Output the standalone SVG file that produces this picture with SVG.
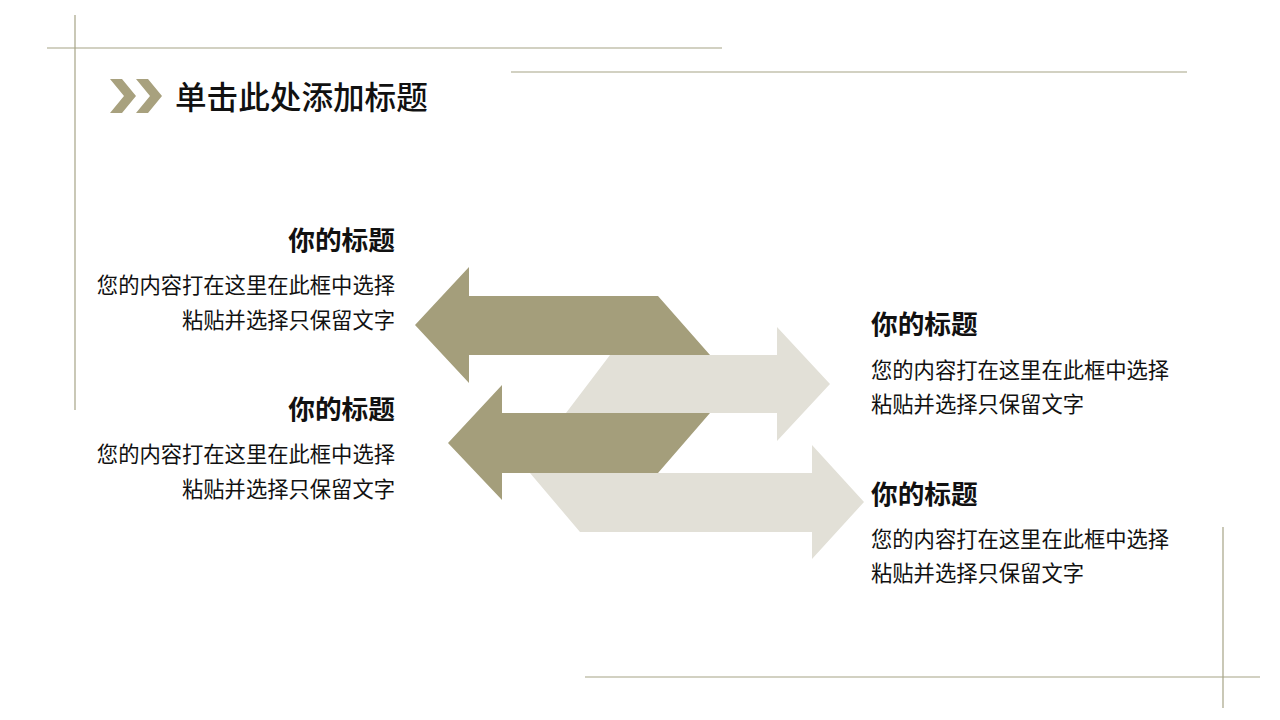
<svg xmlns="http://www.w3.org/2000/svg" width="1280" height="720" viewBox="0 0 1280 720">
<style>
.frame{stroke:#a6a386;stroke-width:1.2;fill:none}
.dark{fill:#a49e7b}
.light{fill:#e2e0d7}
text{font-family:"Noto Sans CJK SC","Noto Sans",sans-serif;fill:#111}
.h{font-size:26.7px;font-weight:bold}
.b{font-size:21.3px}
.r{text-anchor:end}
.title{font-size:31.6px;font-weight:500}
</style>
<rect width="1280" height="720" fill="#ffffff"/>
<g id="frame">
<line class="frame" x1="47" y1="48" x2="722" y2="48"/>
<line class="frame" x1="75" y1="15" x2="75" y2="410"/>
<line class="frame" x1="511" y1="72" x2="1187" y2="72"/>
<line class="frame" x1="585" y1="677" x2="1260" y2="677"/>
<line class="frame" x1="1223" y1="527" x2="1223" y2="708"/>
</g>
<g id="header">
<polygon fill="#a8a17e" points="110,79 122,79 136,96 122,113 110,113 124,96"/>
<polygon fill="#a8a17e" points="136,79 148,79 162,96 148,113 136,113 150,96"/>
<text class="title" x="175" y="109">单击此处添加标题</text>
</g>
<g id="arrows">
<polygon id="arrow-left-1" class="dark" points="415,325 469,267 469,296 658,296 710,355 469,355 469,383"/>
<polygon id="arrow-right-1" class="light" points="830,384 777,327 777,355 610,355 566,413 777,413 777,441"/>
<polygon id="arrow-left-2" class="dark" points="448,443 502,385 502,413 710,413 658,473 502,473 502,500"/>
<polygon id="arrow-right-2" class="light" points="864,502 812,445 812,473 530,473 580,532 812,532 812,559"/>
</g>
<g id="node-left-1">
<text class="h r" x="395" y="250">你的标题</text>
<text class="b r" x="395" y="293">您的内容打在这里在此框中选择</text>
<text class="b r" x="395" y="328">粘贴并选择只保留文字</text>
</g>
<g id="node-left-2">
<text class="h r" x="395" y="419">你的标题</text>
<text class="b r" x="395" y="462">您的内容打在这里在此框中选择</text>
<text class="b r" x="395" y="497">粘贴并选择只保留文字</text>
</g>
<g id="node-right-1">
<text class="h" x="871" y="334">你的标题</text>
<text class="b" x="871" y="378">您的内容打在这里在此框中选择</text>
<text class="b" x="871" y="412">粘贴并选择只保留文字</text>
</g>
<g id="node-right-2">
<text class="h" x="871" y="504">你的标题</text>
<text class="b" x="871" y="547">您的内容打在这里在此框中选择</text>
<text class="b" x="871" y="581">粘贴并选择只保留文字</text>
</g>
</svg>
